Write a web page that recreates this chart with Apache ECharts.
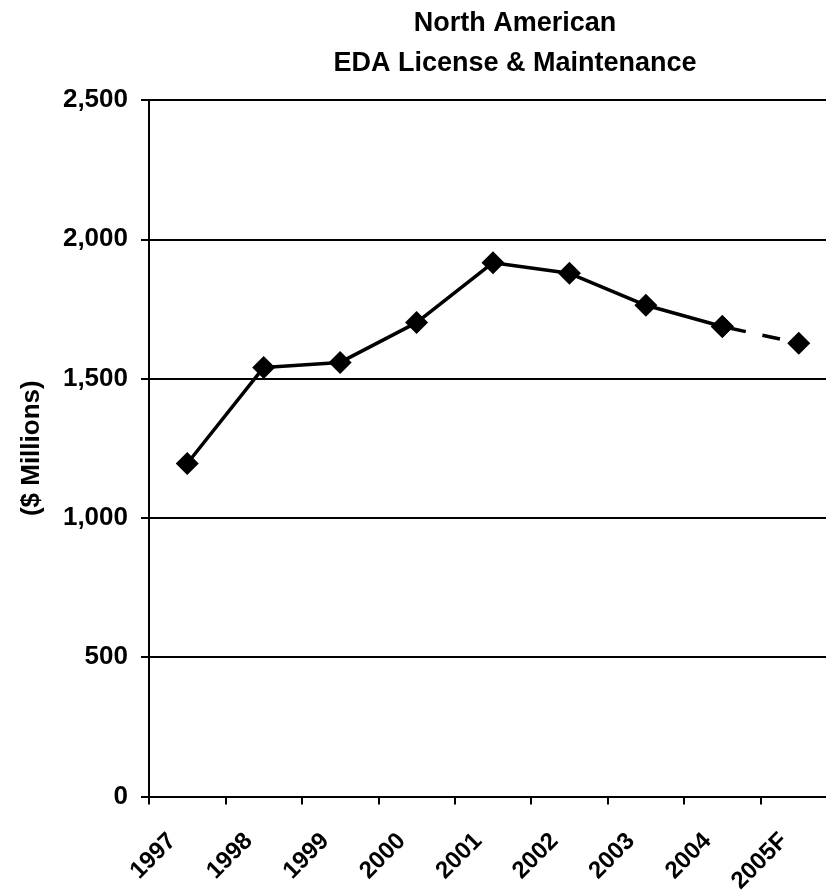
<!DOCTYPE html>
<html>
<head>
<meta charset="utf-8">
<script src="https://cdn.jsdelivr.net/npm/echarts@6/dist/echarts.min.js"></script>
<style>
html,body{margin:0;padding:0;background:#fff;overflow:hidden;width:826px;height:896px;}
#chart{width:840px;height:896px;}
</style>
</head>
<body>
<div id="chart"></div>
<script>
const categories = ['1997','1998','1999','2000','2001','2002','2003','2004','2005F'];
const actualValues = [1195, 1540, 1558, 1701, 1916, 1878, 1763, 1687, null];
const forecastValues = [null, null, null, null, null, null, null, 1687, 1627];
const yTicks = [0, 500, 1000, 1500, 2000, 2500];

const FONT = 'Liberation Sans, Arial, sans-serif';
const chart = echarts.init(document.getElementById('chart'), null, {renderer: 'canvas'});
const toData = arr => arr.map(v => v === null ? '-' : v);

chart.setOption({
  backgroundColor: '#fff',
  animation: false,
  title: {
    text: 'North American\nEDA License & Maintenance',
    left: 510,
    top: -1,
    textAlign: 'center',
    textStyle: {fontFamily: FONT, fontWeight: 'bold', fontSize: 27, lineHeight: 40, color: '#000'}
  },
  grid: {left: 149, right: 3, top: 100, bottom: 97, containLabel: false},
  xAxis: {
    type: 'category',
    data: categories,
    boundaryGap: true,
    axisLine: {lineStyle: {color: '#000', width: 2}},
    axisTick: {show: true, interval: 0, length: 8, lineStyle: {color: '#000', width: 2}},
    axisLabel: {
      interval: 0, rotate: 45, margin: 26,
      fontFamily: FONT, fontWeight: 'bold', fontSize: 24, color: '#000',
      padding: [0, 21, 0, 0]
    },
    splitLine: {show: false}
  },
  yAxis: {
    type: 'value',
    min: yTicks[0],
    max: yTicks[yTicks.length - 1],
    interval: 500,
    name: '($ Millions)',
    nameLocation: 'middle',
    nameGap: 104,
    nameRotate: 90,
    nameTextStyle: {fontFamily: FONT, fontWeight: 'bold', fontSize: 26, color: '#000'},
    axisLine: {show: true, lineStyle: {color: '#000', width: 2}},
    axisTick: {show: true, length: 8, lineStyle: {color: '#000', width: 2}},
    axisLabel: {
      margin: 21,
      fontFamily: FONT, fontWeight: 'bold', fontSize: 26, color: '#000',
      formatter: v => v.toLocaleString('en-US')
    },
    splitLine: {show: true, lineStyle: {color: '#000', width: 2}}
  },
  series: [
    {
      type: 'line',
      data: toData(actualValues),
      symbol: 'diamond',
      symbolSize: 23,
      lineStyle: {color: '#000', width: 3.5},
      itemStyle: {color: '#000'},
      z: 3
    },
    {
      type: 'line',
      data: toData(forecastValues),
      symbol: 'diamond',
      symbolSize: 23,
      lineStyle: {color: '#000', width: 3.5, type: [18, 17], dashOffset: -6},
      itemStyle: {color: '#000'},
      z: 3
    }
  ]
});
</script>
</body>
</html>
